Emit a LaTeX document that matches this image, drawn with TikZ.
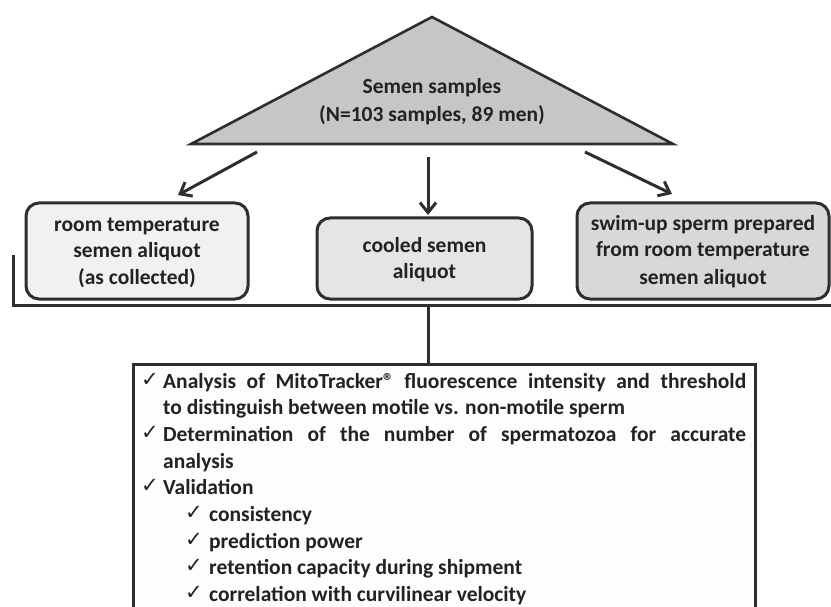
\documentclass[tikz,border=0pt]{standalone}
\usepackage{fontspec}
\setmainfont{Carlito}
\newfontfamily\chkfont{DejaVu Sans}
\usetikzlibrary{arrows.meta}
\definecolor{linegray}{HTML}{2E2E2E}
\definecolor{textgray}{HTML}{222222}
\definecolor{trifill}{HTML}{C6C6C6}
\definecolor{fillA}{HTML}{F1F1F1}
\definecolor{fillB}{HTML}{E5E5E5}
\definecolor{fillC}{HTML}{D8D8D8}
\definecolor{fillD}{HTML}{FDFDFD}
\begin{document}
\begin{tikzpicture}[x=1pt,y=-1pt,
  txt/.style={font=\fontsize{21.5}{26}\selectfont\bfseries, text=textgray, inner sep=0pt, anchor=base},
  txtl/.style={txt, anchor=base west},
  chk/.style={font=\chkfont\fontsize{21}{21}\selectfont, text=textgray, inner sep=0pt, anchor=base west},
  stepbox/.style={draw=linegray, line width=3pt, rounded corners=13pt},
  conn/.style={draw=linegray, line width=3pt},
  arr/.style={conn, -{Straight Barb[length=10pt,width=16pt]}}
]
\useasboundingbox (0,0) rectangle (831,607);
\clip (0,0) rectangle (831,607);
\fill[white] (0,0) rectangle (831,607);

% triangle
\coordinate (tA) at (432,17);
\coordinate (tL) at (191,144);
\coordinate (tR) at (673,144);
\draw[draw=linegray, line width=2.6pt, fill=trifill, line join=miter] (tL) -- (tA) -- (tR) -- cycle;
\node[txt] (t1) at (432,94) {Semen samples};
\node[txt] (t2) at (432,122) {(N=103 samples, 89 men)};

% boxes
\node[stepbox, fill=fillA, minimum width=222pt, minimum height=96pt] (boxA) at (137,251) {};
\node[stepbox, fill=fillB, minimum width=215pt, minimum height=81pt] (boxB) at (424.5,258.5) {};
\node[stepbox, fill=fillC, minimum width=252pt, minimum height=96pt] (boxC) at (703,251) {};

\node[txt] (a1) at (137,232) {room temperature};
\node[txt] (a2) at (137,258) {semen aliquot};
\node[txt] (a3) at (137,284) {(as collected)};
\node[txt] (b1) at (424.5,252) {cooled semen};
\node[txt] (b2) at (424.5,278) {aliquot};
\node[txt] (c1) at (703,231) {swim-up sperm prepared};
\node[txt] (c2) at (703,257) {from room temperature};
\node[txt] (c3) at (703,284) {semen aliquot};

% arrows
\coordinate (la0) at (257,152); \coordinate (la1) at (178,195);
\coordinate (ma0) at (428,157); \coordinate (ma1) at (428,215);
\coordinate (ra0) at (585,152); \coordinate (ra1) at (672,194);
\draw[arr] (la0) -- (la1);
\draw[arr] (ma0) -- (ma1);
\draw[arr] (ra0) -- (ra1);

% bottom box
\node[draw=linegray, line width=3pt, fill=fillD, minimum width=622pt, minimum height=270pt, anchor=north west] (boxD) at (132,363) {};

% bus
\coordinate (busL) at (13,255);
\coordinate (busLc) at (13,305);
\coordinate (busR) at (840,305);
\coordinate (busM) at (428,305);
\draw[conn] (busL) -- (busLc) -- (busR);
\draw[conn] (busM) -- (busM |- boxD.north);

% list
\node[chk] (k1) at (141,386) {✓};
\node[txtl] (l1) at (163,388) {\makebox[583pt][s]{Analysis of MitoTracker® fluorescence intensity and threshold}};
\node[txtl] (l2) at (163,414) {to distinguish between motile vs. non-motile sperm};
\node[chk] (k3) at (141,439) {✓};
\node[txtl] (l3) at (163,441) {\makebox[583pt][s]{Determination of the number of spermatozoa for accurate}};
\node[txtl] (l4) at (163,468) {analysis};
\node[chk] (k5) at (141,492) {✓};
\node[txtl] (l5) at (163,494) {Validation};
\node[chk] (k6) at (185,519) {✓};
\node[txtl] (l6) at (209,521) {consistency};
\node[chk] (k7) at (185,546) {✓};
\node[txtl] (l7) at (209,548) {prediction power};
\node[chk] (k8) at (185,572) {✓};
\node[txtl] (l8) at (209,574) {retention capacity during shipment};
\node[chk] (k9) at (185,599) {✓};
\node[txtl] (l9) at (209,601) {correlation with curvilinear velocity};
\end{tikzpicture}
\end{document}
